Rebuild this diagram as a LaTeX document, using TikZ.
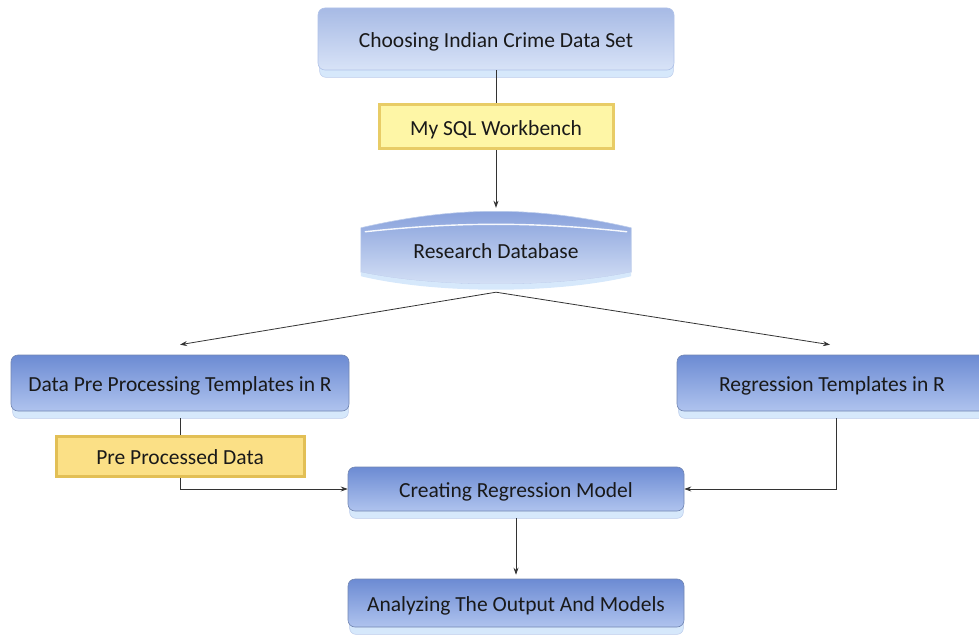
\documentclass[tikz,border=0pt]{standalone}
\usepackage{fontspec}
\setmainfont{Carlito}
\usetikzlibrary{arrows.meta,calc}
\pgfdeclarelayer{background}
\pgfsetlayers{background,main}

\definecolor{lbTop}{HTML}{A7BAE5}
\definecolor{lbBot}{HTML}{D8E3F7}
\definecolor{dbTop}{HTML}{6C8BD3}
\definecolor{dbBot}{HTML}{AFC3EE}
\definecolor{rimBlue}{HTML}{D6E8FB}
\definecolor{edgeBlue}{HTML}{8EA8DE}
\definecolor{yFace}{HTML}{FEF6A6}
\definecolor{yEdge}{HTML}{E8CC66}
\definecolor{oFace}{HTML}{FBE086}
\definecolor{oEdge}{HTML}{E2BF55}
\definecolor{lineGray}{HTML}{333333}

\tikzset{
  label font/.style={font=\fontsize{21.5}{25}\selectfont, text=black!90, text height=22pt, text depth=5pt},
  lightbox/.style={label font, rounded corners=7pt, top color=lbTop, bottom color=lbBot,
    draw=edgeBlue!70, line width=0.6pt, inner sep=0pt},
  darkbox/.style={label font, rounded corners=7pt, top color=dbTop, bottom color=dbBot,
    draw=edgeBlue!80!black, line width=0.6pt, inner sep=0pt},
  ybox/.style={label font, fill=yFace, draw=yEdge, line width=3pt, inner sep=0pt},
  obox/.style={label font, fill=oFace, draw=oEdge, line width=3pt, inner sep=0pt},
  conn/.style={draw=lineGray, line width=0.8pt},
  arr/.style={conn, -{Stealth[length=7pt,width=5pt]}},
}

\begin{document}
\begin{tikzpicture}[x=1pt,y=-1pt]
\useasboundingbox (0,0) rectangle (979,636);

% boxes
\node[lightbox, minimum width=356pt, minimum height=62pt] (choose) at (496,39) {Choosing Indian Crime Data Set};
\node[ybox, minimum width=234pt, minimum height=44pt] (sql) at (496,127) {My SQL Workbench};
\node[minimum width=270pt, minimum height=60pt] (db) at (496,250) {};
\node[darkbox, minimum width=338pt, minimum height=56pt] (pre) at (180,383) {Data Pre Processing Templates in R};
\node[darkbox, minimum width=310pt, minimum height=56pt] (reg) at (832,383) {Regression Templates in R};
\node[obox, minimum width=248pt, minimum height=40pt] (ppd) at (180,456) {Pre Processed Data};
\node[darkbox, minimum width=336pt, minimum height=44pt] (cre) at (516,489) {Creating Regression Model};
\node[darkbox, minimum width=336pt, minimum height=48pt] (ana) at (516,603) {Analyzing The Output And Models};

% light rims under the blue boxes
\begin{pgfonlayer}{background}
  \foreach \b in {choose,pre,reg,cre,ana}{
    \fill[rimBlue, rounded corners=6pt] ($(\b.south west)+(2,-20)$) rectangle ($(\b.south east)+(-1,7)$);
    \draw[edgeBlue!60, line width=0.5pt, rounded corners=6pt] ($(\b.south west)+(2,-20)$) rectangle ($(\b.south east)+(-1,7)$);
  }
\end{pgfonlayer}

% disc for the research database
\path[top color=dbTop!85, bottom color=lbBot, draw=edgeBlue!60, line width=0.6pt]
  ($(db.north west)+(0,8)$) .. controls ($(db.north)+(-40,-14)$) and ($(db.north)+(40,-14)$) .. ($(db.north east)+(0,8)$)
  -- ($(db.south east)+(0,-8)$)
  .. controls ($(db.south)+(60,8)$) and ($(db.south)+(-60,8)$) .. ($(db.south west)+(0,-8)$) -- cycle;
\draw[white!80!lbBot, line width=1.4pt]
  ($(db.north west)+(4,12)$) .. controls ($(db.north)+(-40,2)$) and ($(db.north)+(40,2)$) .. ($(db.north east)+(-4,12)$);
\fill[rimBlue]
  ($(db.south west)+(0,-8)$) .. controls ($(db.south)+(-60,8)$) and ($(db.south)+(60,8)$) .. ($(db.south east)+(0,-8)$)
  -- ($(db.south east)+(0,-4)$) .. controls ($(db.south)+(60,14)$) and ($(db.south)+(-60,14)$) .. ($(db.south west)+(0,-4)$) -- cycle;
\node[label font] (dbt) at ($(db.center)+(0,0)$) {Research Database};
\coordinate (split) at ($(db.south)+(0,12)$);

% connectors
\draw[conn] (choose.south) -- (sql.north);
\draw[arr] (sql.south) -- ($(db.north)+(0,-12)$);
\draw[arr] (split) -- ($(pre.north)+(0,-10)$);
\draw[arr] (split) -- ($(reg.north)+(-2,-10)$);
\draw[conn] ($(pre.south)+(0,7)$) -- (ppd.north);
\draw[arr] (ppd.south) |- (cre.west);
\draw[arr] ($(reg.south)+(4,7)$) |- (cre.east);
\draw[arr] ($(cre.south)+(0,7)$) -- ($(ana.north)+(0,-4)$);
\end{tikzpicture}
\end{document}
